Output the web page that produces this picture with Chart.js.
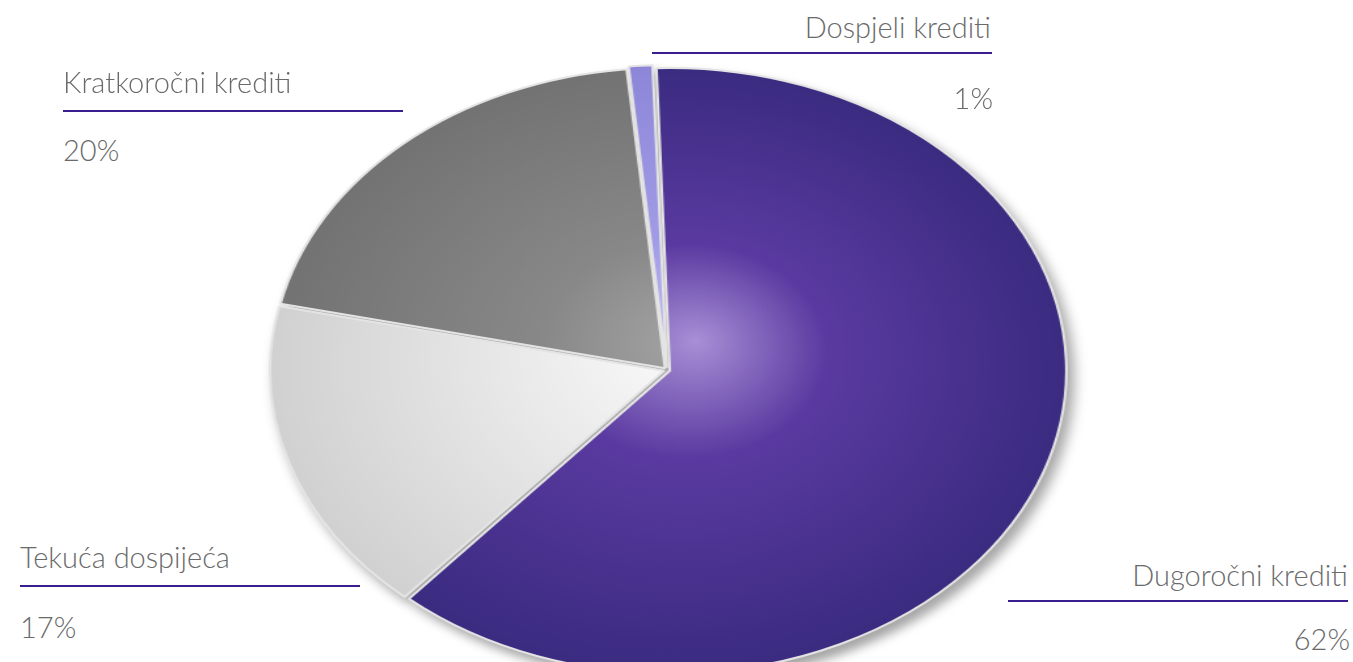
<!DOCTYPE html>
<html>
<head>
<meta charset="utf-8">
<script src="https://cdn.jsdelivr.net/npm/chart.js@4.4.0/dist/chart.umd.min.js"></script>
<style>
  html, body { margin: 0; padding: 0; background: #fff; }
  body { width: 1353px; height: 662px; overflow: hidden; position: relative; }
  #wrap {
    position: absolute; left: 361px; top: 64px; width: 612px; height: 612px;
    transform: scaleX(1.31); transform-origin: 50% 50%;
  }
  #pie { filter: drop-shadow(5px 7px 5px rgba(0,0,0,0.35)); }
  .lbl { position: absolute; font-family: Lato, "Open Sans", sans-serif; font-size: 29px; font-weight: 300;
         line-height: 1; color: #6a6a6a; white-space: nowrap; }
  .ln { position: absolute; height: 2px; background: #3a1d8f; }
</style>
</head>
<body>
<div id="wrap"><canvas id="pie"></canvas></div>
<script>
/* udjeli kredita */
const kategorije = ["Dugoročni krediti", "Tekuća dospijeća", "Kratkoročni krediti", "Dospjeli krediti"];
const udjeli = [62, 17, 20, 1];

// boje: [sredina, sredina-rub, rub]
const boje = [
  ["#a88fd6", "#5a3aa0", "#3a2b80"],
  ["#fbfbfb", "#ececec", "#d0d0d0"],
  ["#a4a4a4", "#888888", "#727272"],
  ["#c2bdf0", "#a29ce6", "#8d86d8"]
];

// položaj natpisa (lijevo/desno, vrh teksta, linija)
const natpisi = [
  { right: 1348, lineX: 1008, lineY: 600, top: 560, pctTop: 624 },
  { left: 20, lineX: 20, lineY: 585, top: 542, pctTop: 612 },
  { left: 63, lineX: 63, lineY: 110, top: 67, pctTop: 135 },
  { right: 991, lineX: 652, lineY: 52, top: 12, pctTop: 83 }
];

function gradijent(context) {
  const chart = context.chart;
  const area = chart.chartArea;
  if (!area) return boje[context.dataIndex][1];
  const cx = (area.left + area.right) / 2;
  const cy = (area.top + area.bottom) / 2;
  const r = Math.min(area.width, area.height) / 2;
  const g = chart.ctx.createRadialGradient(cx + 20, cy - 30, 0, cx, cy, r);
  const b = boje[context.dataIndex];
  g.addColorStop(0, b[0]);
  g.addColorStop(0.35, b[1]);
  g.addColorStop(1, b[2]);
  return g;
}

new Chart(document.getElementById("pie"), {
  type: "pie",
  data: {
    labels: kategorije,
    datasets: [{
      data: udjeli,
      backgroundColor: gradijent,
      borderColor: "#e4e4e4",
      borderWidth: 2,
      offset: 9
    }]
  },
  options: {
    responsive: true,
    maintainAspectRatio: false,
    animation: false,
    rotation: -2,
    plugins: { legend: { display: false }, tooltip: { enabled: false } }
  }
});

// natpisi
kategorije.forEach((k, i) => {
  const p = natpisi[i];
  const t = document.createElement("div");
  t.className = "lbl";
  t.textContent = k;
  t.style.top = p.top + "px";
  const pc = document.createElement("div");
  pc.className = "lbl";
  pc.textContent = udjeli[i] + "%";
  pc.style.top = p.pctTop + "px";
  if (p.right !== undefined) {
    t.style.right = (1353 - p.right) + "px";
    pc.style.right = (1353 - p.right - 2) + "px";
  } else {
    t.style.left = p.left + "px";
    pc.style.left = p.left + "px";
  }
  const l = document.createElement("div");
  l.className = "ln";
  l.style.left = p.lineX + "px";
  l.style.top = p.lineY + "px";
  l.style.width = "340px";
  document.body.appendChild(t);
  document.body.appendChild(pc);
  document.body.appendChild(l);
});
</script>
</body>
</html>
